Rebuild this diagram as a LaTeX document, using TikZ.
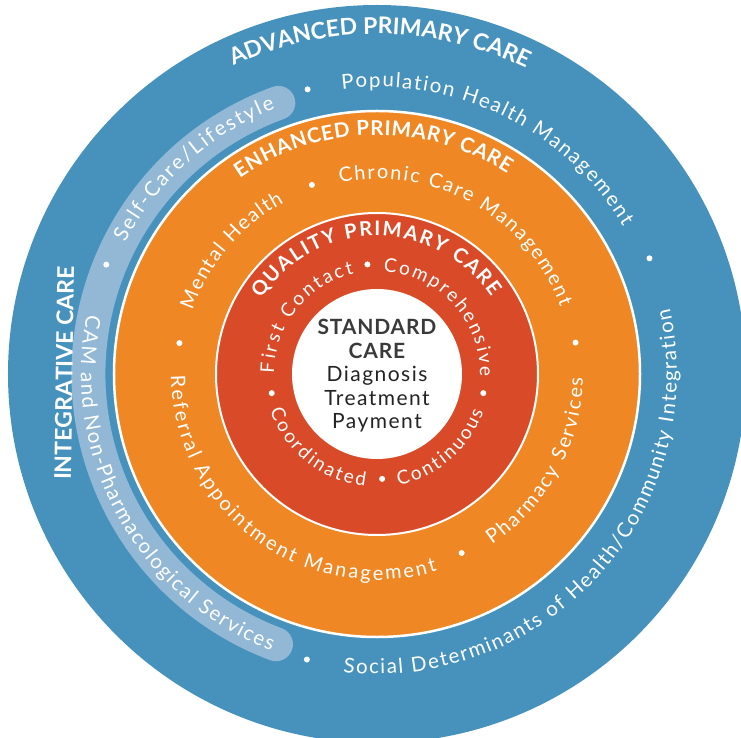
\documentclass[tikz,border=0pt]{standalone}
\usepackage{fontspec}
\setmainfont{Lato}
\usetikzlibrary{decorations.text}
\definecolor{outerblue}{RGB}{70,146,189}
\definecolor{bandblue}{RGB}{146,184,213}
\definecolor{ringorange}{RGB}{238,135,36}
\definecolor{ringred}{RGB}{217,75,40}
\definecolor{stdgray}{RGB}{58,58,58}
\definecolor{stdtext}{RGB}{35,35,35}
\newcommand\ringtext[5]{%
  \path[decorate,decoration={text along path,text={|#4|#5},text align={fit to path}}]
    (#2:#1) arc[start angle=#2,end angle=#3,radius=#1];}
\newcommand\hdA{\fontsize{23}{23}\selectfont\bfseries\color{white}}
\newcommand\hdB{\fontsize{20.5}{20.5}\selectfont\bfseries\color{white}}
\newcommand\hdC{\fontsize{20}{20}\selectfont\bfseries\color{white}}
\newcommand\txA{\fontsize{20.5}{20.5}\selectfont\color{white}}
\newcommand\txB{\fontsize{20}{20}\selectfont\color{white}}
\newcommand\txC{\fontsize{19}{19}\selectfont\color{white}}
\tikzset{ringdot/.style={fill=white}}
\begin{document}
\begin{tikzpicture}[x=1pt,y=1pt]
\useasboundingbox (-377,-364) rectangle (364,374);
\clip (-377,-364) rectangle (364,374);
% rings
\fill[outerblue] (0,0) circle[radius=369];
\draw[bandblue, line width=34pt, line cap=round] (110:288.5) arc[start angle=110,end angle=249.5,radius=288.5];
\filldraw[fill=ringorange, draw=white, line width=2.5pt] (0,0) circle[radius=263];
\filldraw[fill=ringred, draw=white, line width=2pt] (0,0) circle[radius=161];
\fill[white] (0,0) circle[radius=85];
% outer ring texts
\ringtext{340}{115}{64.5}{\hdA}{ADVANCED PRIMARY CARE}
\coordinate (intA) at (-306,-106);
\coordinate (intB) at (-303,106);
\path[decorate,decoration={text along path,text={|\hdA|INTEGRATIVE CARE},text align={fit to path}}] (intA) -- (intB);
\ringtext{287}{97}{31}{\txA}{Population Health Management}
\ringtext{300}{263.5}{372.6}{\txA}{Social Determinants of Health/Community Integration}
\ringtext{284}{152.5}{111}{\txA}{Self-Care/Lifestyle}
\ringtext{296}{168.5}{249}{\txA}{CAM and Non-Pharmacological Services}
\fill[ringdot] (103.7:293) circle[radius=3];
\fill[ringdot] (23:296) circle[radius=3];
\fill[ringdot] (256.2:294) circle[radius=3];
\fill[ringdot] (158:292) circle[radius=3];
% orange ring texts
\ringtext{239}{125}{57}{\hdB}{ENHANCED PRIMARY CARE}
\ringtext{195}{161}{118.5}{\txB}{Mental Health}
\ringtext{195}{101}{20}{\txB}{Chronic Care Management}
\ringtext{206}{180.5}{287}{\txB}{Referral Appointment Management}
\ringtext{206}{304}{359}{\txB}{Pharmacy Services}
\fill[ringdot] (109:200) circle[radius=3];
\fill[ringdot] (9:201) circle[radius=3];
\fill[ringdot] (295.3:198) circle[radius=3];
\fill[ringdot] (171.1:200) circle[radius=3];
% red ring texts
\ringtext{138}{147}{34}{\hdC}{QUALITY PRIMARY CARE}
\ringtext{103}{179.5}{103}{\txC}{First Contact}
\ringtext{103}{86.5}{-1.5}{\txC}{Comprehensive}
\ringtext{113}{199}{264}{\txC}{Coordinated}
\ringtext{113}{281}{340.5}{\txC}{Continuous}
\fill[ringdot] (95:110) circle[radius=3];
\fill[ringdot] (-10.2:108) circle[radius=3];
\fill[ringdot] (190.3:107) circle[radius=3];
\fill[ringdot] (272.8:105) circle[radius=3];
% centre
\node[align=center, text=stdtext, font=\fontsize{21}{23.5}\selectfont] (std) at (0,-2)
  {{\bfseries\addfontfeatures{LetterSpace=4}\color{stdgray}STANDARD}\\{\bfseries\addfontfeatures{LetterSpace=4}\color{stdgray}CARE}\\
   {\addfontfeatures{LetterSpace=7}Diagnosis}\\{\addfontfeatures{LetterSpace=7}Treatment}\\{\addfontfeatures{LetterSpace=7}Payment}};
\end{tikzpicture}
\end{document}
